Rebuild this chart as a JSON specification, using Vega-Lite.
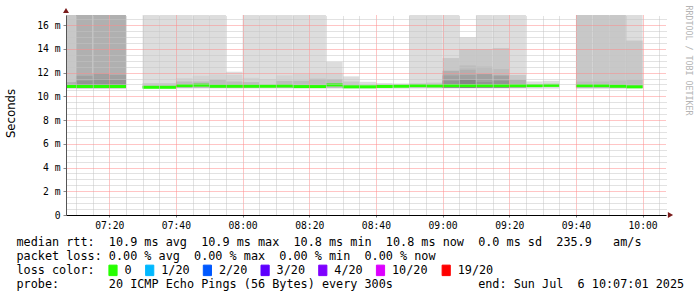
{
  "$schema": "https://vega.github.io/schema/vega-lite/v6.json",
  "width": 600,
  "height": 200,
  "autosize": {"type": "none"},
  "padding": {"left": 66, "top": 15, "right": 31, "bottom": 82},
  "background": "white",
  "config": {"view": {"stroke": null}, "font": "DejaVu Sans Mono"},
  "datasets": {
    "smoke": [
      {"a":"2025-07-06T07:05:00Z","b":"2025-07-06T07:10:00Z","lo":10.65,"hi":16.85,"l":3},
      {"a":"2025-07-06T07:05:00Z","b":"2025-07-06T07:10:00Z","lo":10.7,"hi":11.2,"l":5},
      {"a":"2025-07-06T07:10:00Z","b":"2025-07-06T07:15:00Z","lo":10.65,"hi":16.85,"l":5},
      {"a":"2025-07-06T07:10:00Z","b":"2025-07-06T07:15:00Z","lo":10.7,"hi":11.73,"l":6},
      {"a":"2025-07-06T07:10:00Z","b":"2025-07-06T07:15:00Z","lo":10.7,"hi":11.31,"l":7},
      {"a":"2025-07-06T07:15:00Z","b":"2025-07-06T07:20:00Z","lo":10.65,"hi":16.85,"l":5},
      {"a":"2025-07-06T07:15:00Z","b":"2025-07-06T07:20:00Z","lo":10.7,"hi":11.9,"l":6},
      {"a":"2025-07-06T07:15:00Z","b":"2025-07-06T07:20:00Z","lo":10.7,"hi":11.47,"l":7},
      {"a":"2025-07-06T07:20:00Z","b":"2025-07-06T07:25:00Z","lo":10.65,"hi":16.85,"l":5},
      {"a":"2025-07-06T07:20:00Z","b":"2025-07-06T07:25:00Z","lo":10.7,"hi":11.8,"l":6},
      {"a":"2025-07-06T07:20:00Z","b":"2025-07-06T07:25:00Z","lo":10.7,"hi":11.4,"l":7},
      {"a":"2025-07-06T07:30:00Z","b":"2025-07-06T07:35:00Z","lo":10.65,"hi":16.85,"l":1},
      {"a":"2025-07-06T07:30:00Z","b":"2025-07-06T07:35:00Z","lo":10.7,"hi":11.11,"l":3},
      {"a":"2025-07-06T07:35:00Z","b":"2025-07-06T07:40:00Z","lo":10.65,"hi":16.85,"l":1},
      {"a":"2025-07-06T07:35:00Z","b":"2025-07-06T07:40:00Z","lo":10.7,"hi":11.11,"l":3},
      {"a":"2025-07-06T07:40:00Z","b":"2025-07-06T07:45:00Z","lo":10.65,"hi":16.85,"l":1},
      {"a":"2025-07-06T07:40:00Z","b":"2025-07-06T07:45:00Z","lo":10.7,"hi":11.53,"l":2},
      {"a":"2025-07-06T07:40:00Z","b":"2025-07-06T07:45:00Z","lo":10.7,"hi":11.25,"l":4},
      {"a":"2025-07-06T07:45:00Z","b":"2025-07-06T07:50:00Z","lo":10.65,"hi":16.85,"l":1},
      {"a":"2025-07-06T07:45:00Z","b":"2025-07-06T07:50:00Z","lo":10.7,"hi":11.73,"l":2},
      {"a":"2025-07-06T07:45:00Z","b":"2025-07-06T07:50:00Z","lo":10.7,"hi":11.25,"l":4},
      {"a":"2025-07-06T07:50:00Z","b":"2025-07-06T07:55:00Z","lo":10.65,"hi":16.85,"l":1},
      {"a":"2025-07-06T07:50:00Z","b":"2025-07-06T07:55:00Z","lo":10.7,"hi":11.85,"l":2},
      {"a":"2025-07-06T07:50:00Z","b":"2025-07-06T07:55:00Z","lo":10.7,"hi":11.39,"l":4},
      {"a":"2025-07-06T07:55:00Z","b":"2025-07-06T08:00:00Z","lo":10.65,"hi":12.07,"l":1},
      {"a":"2025-07-06T07:55:00Z","b":"2025-07-06T08:00:00Z","lo":10.7,"hi":11.8,"l":2},
      {"a":"2025-07-06T07:55:00Z","b":"2025-07-06T08:00:00Z","lo":10.7,"hi":11.25,"l":4},
      {"a":"2025-07-06T08:00:00Z","b":"2025-07-06T08:05:00Z","lo":10.65,"hi":16.85,"l":1},
      {"a":"2025-07-06T08:00:00Z","b":"2025-07-06T08:05:00Z","lo":10.7,"hi":11.56,"l":2},
      {"a":"2025-07-06T08:00:00Z","b":"2025-07-06T08:05:00Z","lo":10.7,"hi":11.2,"l":4},
      {"a":"2025-07-06T08:05:00Z","b":"2025-07-06T08:10:00Z","lo":10.65,"hi":16.85,"l":1},
      {"a":"2025-07-06T08:05:00Z","b":"2025-07-06T08:10:00Z","lo":10.7,"hi":11.45,"l":2},
      {"a":"2025-07-06T08:10:00Z","b":"2025-07-06T08:15:00Z","lo":10.65,"hi":16.85,"l":1},
      {"a":"2025-07-06T08:10:00Z","b":"2025-07-06T08:15:00Z","lo":10.7,"hi":11.76,"l":2},
      {"a":"2025-07-06T08:10:00Z","b":"2025-07-06T08:15:00Z","lo":10.7,"hi":11.3,"l":4},
      {"a":"2025-07-06T08:15:00Z","b":"2025-07-06T08:20:00Z","lo":10.65,"hi":16.85,"l":1},
      {"a":"2025-07-06T08:15:00Z","b":"2025-07-06T08:20:00Z","lo":10.7,"hi":11.87,"l":2},
      {"a":"2025-07-06T08:15:00Z","b":"2025-07-06T08:20:00Z","lo":10.7,"hi":11.31,"l":4},
      {"a":"2025-07-06T08:20:00Z","b":"2025-07-06T08:25:00Z","lo":10.65,"hi":16.85,"l":1},
      {"a":"2025-07-06T08:20:00Z","b":"2025-07-06T08:25:00Z","lo":10.7,"hi":11.9,"l":2},
      {"a":"2025-07-06T08:20:00Z","b":"2025-07-06T08:25:00Z","lo":10.7,"hi":11.47,"l":4},
      {"a":"2025-07-06T08:25:00Z","b":"2025-07-06T08:30:00Z","lo":10.65,"hi":12.9,"l":1},
      {"a":"2025-07-06T08:25:00Z","b":"2025-07-06T08:30:00Z","lo":10.7,"hi":11.9,"l":2},
      {"a":"2025-07-06T08:25:00Z","b":"2025-07-06T08:30:00Z","lo":10.7,"hi":11.45,"l":4},
      {"a":"2025-07-06T08:30:00Z","b":"2025-07-06T08:35:00Z","lo":10.65,"hi":11.68,"l":1},
      {"a":"2025-07-06T08:30:00Z","b":"2025-07-06T08:35:00Z","lo":10.7,"hi":11.25,"l":3},
      {"a":"2025-07-06T08:35:00Z","b":"2025-07-06T08:40:00Z","lo":10.65,"hi":11.22,"l":1},
      {"a":"2025-07-06T08:40:00Z","b":"2025-07-06T08:45:00Z","lo":10.65,"hi":11.11,"l":1},
      {"a":"2025-07-06T08:45:00Z","b":"2025-07-06T08:50:00Z","lo":10.65,"hi":11.08,"l":1},
      {"a":"2025-07-06T08:50:00Z","b":"2025-07-06T08:55:00Z","lo":10.65,"hi":16.85,"l":1},
      {"a":"2025-07-06T08:50:00Z","b":"2025-07-06T08:55:00Z","lo":10.7,"hi":11.1,"l":3},
      {"a":"2025-07-06T08:55:00Z","b":"2025-07-06T09:00:00Z","lo":10.65,"hi":16.85,"l":1},
      {"a":"2025-07-06T08:55:00Z","b":"2025-07-06T09:00:00Z","lo":10.7,"hi":11.15,"l":3},
      {"a":"2025-07-06T09:00:00Z","b":"2025-07-06T09:05:00Z","lo":10.65,"hi":16.85,"l":1},
      {"a":"2025-07-06T09:00:00Z","b":"2025-07-06T09:05:00Z","lo":10.7,"hi":13.22,"l":3},
      {"a":"2025-07-06T09:00:00Z","b":"2025-07-06T09:05:00Z","lo":10.7,"hi":12.15,"l":5},
      {"a":"2025-07-06T09:00:00Z","b":"2025-07-06T09:05:00Z","lo":10.7,"hi":11.76,"l":6},
      {"a":"2025-07-06T09:00:00Z","b":"2025-07-06T09:05:00Z","lo":10.7,"hi":11.3,"l":7},
      {"a":"2025-07-06T09:05:00Z","b":"2025-07-06T09:10:00Z","lo":10.65,"hi":14.98,"l":1},
      {"a":"2025-07-06T09:05:00Z","b":"2025-07-06T09:10:00Z","lo":10.7,"hi":13.98,"l":3},
      {"a":"2025-07-06T09:05:00Z","b":"2025-07-06T09:10:00Z","lo":10.7,"hi":12.6,"l":4},
      {"a":"2025-07-06T09:05:00Z","b":"2025-07-06T09:10:00Z","lo":10.7,"hi":12.24,"l":5},
      {"a":"2025-07-06T09:05:00Z","b":"2025-07-06T09:10:00Z","lo":10.7,"hi":11.8,"l":6},
      {"a":"2025-07-06T09:05:00Z","b":"2025-07-06T09:10:00Z","lo":10.7,"hi":11.39,"l":8},
      {"a":"2025-07-06T09:10:00Z","b":"2025-07-06T09:15:00Z","lo":10.65,"hi":16.85,"l":1},
      {"a":"2025-07-06T09:10:00Z","b":"2025-07-06T09:15:00Z","lo":10.7,"hi":13.98,"l":3},
      {"a":"2025-07-06T09:10:00Z","b":"2025-07-06T09:15:00Z","lo":10.7,"hi":12.51,"l":4},
      {"a":"2025-07-06T09:10:00Z","b":"2025-07-06T09:15:00Z","lo":10.7,"hi":11.87,"l":6},
      {"a":"2025-07-06T09:10:00Z","b":"2025-07-06T09:15:00Z","lo":10.7,"hi":11.2,"l":7},
      {"a":"2025-07-06T09:15:00Z","b":"2025-07-06T09:20:00Z","lo":10.65,"hi":16.85,"l":1},
      {"a":"2025-07-06T09:15:00Z","b":"2025-07-06T09:20:00Z","lo":10.7,"hi":14.06,"l":3},
      {"a":"2025-07-06T09:15:00Z","b":"2025-07-06T09:20:00Z","lo":10.7,"hi":12.29,"l":4},
      {"a":"2025-07-06T09:15:00Z","b":"2025-07-06T09:20:00Z","lo":10.7,"hi":11.76,"l":6},
      {"a":"2025-07-06T09:15:00Z","b":"2025-07-06T09:20:00Z","lo":10.7,"hi":11.3,"l":7},
      {"a":"2025-07-06T09:20:00Z","b":"2025-07-06T09:25:00Z","lo":10.65,"hi":16.85,"l":1},
      {"a":"2025-07-06T09:20:00Z","b":"2025-07-06T09:25:00Z","lo":10.7,"hi":11.8,"l":3},
      {"a":"2025-07-06T09:20:00Z","b":"2025-07-06T09:25:00Z","lo":10.7,"hi":11.39,"l":5},
      {"a":"2025-07-06T09:25:00Z","b":"2025-07-06T09:30:00Z","lo":10.65,"hi":11.25,"l":1},
      {"a":"2025-07-06T09:30:00Z","b":"2025-07-06T09:35:00Z","lo":10.65,"hi":11.31,"l":1},
      {"a":"2025-07-06T09:40:00Z","b":"2025-07-06T09:45:00Z","lo":10.65,"hi":16.85,"l":3},
      {"a":"2025-07-06T09:40:00Z","b":"2025-07-06T09:45:00Z","lo":10.7,"hi":11.25,"l":4},
      {"a":"2025-07-06T09:45:00Z","b":"2025-07-06T09:50:00Z","lo":10.65,"hi":16.85,"l":3},
      {"a":"2025-07-06T09:45:00Z","b":"2025-07-06T09:50:00Z","lo":10.7,"hi":11.25,"l":4},
      {"a":"2025-07-06T09:50:00Z","b":"2025-07-06T09:55:00Z","lo":10.65,"hi":16.85,"l":3},
      {"a":"2025-07-06T09:50:00Z","b":"2025-07-06T09:55:00Z","lo":10.7,"hi":11.33,"l":4},
      {"a":"2025-07-06T09:55:00Z","b":"2025-07-06T10:00:00Z","lo":10.65,"hi":16.85,"l":1},
      {"a":"2025-07-06T09:55:00Z","b":"2025-07-06T10:00:00Z","lo":10.7,"hi":14.7,"l":3},
      {"a":"2025-07-06T09:55:00Z","b":"2025-07-06T10:00:00Z","lo":10.7,"hi":11.39,"l":4}
    ],
    "med": [
      {"a":"2025-07-06T07:05:00Z","b":"2025-07-06T07:10:00Z","m":10.83,"loss":"0"},
      {"a":"2025-07-06T07:10:00Z","b":"2025-07-06T07:15:00Z","m":10.83,"loss":"0"},
      {"a":"2025-07-06T07:15:00Z","b":"2025-07-06T07:20:00Z","m":10.83,"loss":"0"},
      {"a":"2025-07-06T07:20:00Z","b":"2025-07-06T07:25:00Z","m":10.83,"loss":"0"},
      {"a":"2025-07-06T07:30:00Z","b":"2025-07-06T07:35:00Z","m":10.76,"loss":"0"},
      {"a":"2025-07-06T07:35:00Z","b":"2025-07-06T07:40:00Z","m":10.76,"loss":"0"},
      {"a":"2025-07-06T07:40:00Z","b":"2025-07-06T07:45:00Z","m":10.9,"loss":"0"},
      {"a":"2025-07-06T07:45:00Z","b":"2025-07-06T07:50:00Z","m":10.94,"loss":"0"},
      {"a":"2025-07-06T07:50:00Z","b":"2025-07-06T07:55:00Z","m":10.85,"loss":"0"},
      {"a":"2025-07-06T07:55:00Z","b":"2025-07-06T08:00:00Z","m":10.85,"loss":"0"},
      {"a":"2025-07-06T08:00:00Z","b":"2025-07-06T08:05:00Z","m":10.85,"loss":"0"},
      {"a":"2025-07-06T08:05:00Z","b":"2025-07-06T08:10:00Z","m":10.85,"loss":"0"},
      {"a":"2025-07-06T08:10:00Z","b":"2025-07-06T08:15:00Z","m":10.87,"loss":"0"},
      {"a":"2025-07-06T08:15:00Z","b":"2025-07-06T08:20:00Z","m":10.82,"loss":"0"},
      {"a":"2025-07-06T08:20:00Z","b":"2025-07-06T08:25:00Z","m":10.82,"loss":"0"},
      {"a":"2025-07-06T08:25:00Z","b":"2025-07-06T08:30:00Z","m":10.96,"loss":"0"},
      {"a":"2025-07-06T08:30:00Z","b":"2025-07-06T08:35:00Z","m":10.8,"loss":"0"},
      {"a":"2025-07-06T08:35:00Z","b":"2025-07-06T08:40:00Z","m":10.8,"loss":"0"},
      {"a":"2025-07-06T08:40:00Z","b":"2025-07-06T08:45:00Z","m":10.83,"loss":"0"},
      {"a":"2025-07-06T08:45:00Z","b":"2025-07-06T08:50:00Z","m":10.85,"loss":"0"},
      {"a":"2025-07-06T08:50:00Z","b":"2025-07-06T08:55:00Z","m":10.9,"loss":"0"},
      {"a":"2025-07-06T08:55:00Z","b":"2025-07-06T09:00:00Z","m":10.88,"loss":"0"},
      {"a":"2025-07-06T09:00:00Z","b":"2025-07-06T09:05:00Z","m":10.9,"loss":"0"},
      {"a":"2025-07-06T09:05:00Z","b":"2025-07-06T09:10:00Z","m":10.9,"loss":"0"},
      {"a":"2025-07-06T09:10:00Z","b":"2025-07-06T09:15:00Z","m":10.9,"loss":"0"},
      {"a":"2025-07-06T09:15:00Z","b":"2025-07-06T09:20:00Z","m":10.9,"loss":"0"},
      {"a":"2025-07-06T09:20:00Z","b":"2025-07-06T09:25:00Z","m":10.9,"loss":"0"},
      {"a":"2025-07-06T09:25:00Z","b":"2025-07-06T09:30:00Z","m":10.9,"loss":"0"},
      {"a":"2025-07-06T09:30:00Z","b":"2025-07-06T09:35:00Z","m":10.92,"loss":"0"},
      {"a":"2025-07-06T09:40:00Z","b":"2025-07-06T09:45:00Z","m":10.9,"loss":"0"},
      {"a":"2025-07-06T09:45:00Z","b":"2025-07-06T09:50:00Z","m":10.9,"loss":"0"},
      {"a":"2025-07-06T09:50:00Z","b":"2025-07-06T09:55:00Z","m":10.85,"loss":"0"},
      {"a":"2025-07-06T09:55:00Z","b":"2025-07-06T10:00:00Z","m":10.8,"loss":"0"}
    ]
  },
  "layer": [
    {
      "data": {"name": "smoke"},
      "mark": {"type": "rect", "clip": true},
      "encoding": {
        "x": {"field": "a", "type": "temporal",
          "scale": {"type": "utc", "nice": false, "domain": [1751785621000, 1751796421000]},
          "axis": {"orient": "bottom",
            "values": [1751786400000, 1751787600000, 1751788800000, 1751790000000, 1751791200000, 1751792400000, 1751793600000, 1751794800000, 1751796000000],
            "labelExpr": "utcFormat(datum.value, '%H:%M')",
            "labelFont": "DejaVu Sans Mono", "labelFontSize": 9.7, "labelColor": "#000",
            "labelPadding": 3, "labelFlush": false, "labelOverlap": false,
            "tickSize": 2, "tickColor": "#777", "domainColor": "#000", "domainWidth": 1,
            "grid": true, "gridColor": "#ff8a8a", "gridDash": [1, 1], "gridWidth": 1, "zindex": 1,
            "title": [
              "median rtt:\u00a0\u00a010.9 ms avg\u00a0\u00a010.9 ms max\u00a0\u00a010.8 ms min\u00a0\u00a010.8 ms now\u00a0\u00a00.0 ms sd\u00a0\u00a0235.9\u00a0\u00a0\u00a0am/s",
              "packet loss: 0.00 % avg\u00a0\u00a00.00 % max\u00a0\u00a00.00 % min\u00a0\u00a00.00 % now",
              "loss color:",
              "probe:\u00a0\u00a0\u00a0\u00a0\u00a0\u00a0\u00a020 ICMP Echo Pings (56 Bytes) every 300s\u00a0\u00a0\u00a0\u00a0\u00a0\u00a0\u00a0\u00a0\u00a0\u00a0\u00a0\u00a0end: Sun Jul\u00a0\u00a06 10:07:01 2025"
            ],
            "titleFont": "DejaVu Sans Mono", "titleFontSize": 11.8, "titleFontWeight": "normal",
            "titleColor": "#000", "titleX": -50, "titleY": 30, "titleAlign": "left",
            "titleBaseline": "alphabetic", "titleLineHeight": 14.3}
        },
        "x2": {"field": "b"},
        "y": {"field": "lo", "type": "quantitative",
          "scale": {"domain": [0, 16.85], "nice": false, "zero": true},
          "axis": {"orient": "left", "values": [0, 2, 4, 6, 8, 10, 12, 14, 16],
            "labelExpr": "datum.value == 0 ? '0' : datum.value + ' m'",
            "labelFont": "DejaVu Sans Mono", "labelFontSize": 9.7, "labelColor": "#000",
            "labelPadding": 3, "tickSize": 3, "tickColor": "#888", "domainColor": "#555",
            "grid": true, "gridColor": "#ff8a8a", "gridDash": [1, 1],
            "zindex": 1,
            "title": "Seconds", "titleFont": "DejaVu Sans", "titleFontSize": 11.7,
            "titleFontWeight": "normal", "titleColor": "#000", "titleX": -56, "titleY": 98,
            "titleAngle": -90, "titleAlign": "center", "titleBaseline": "middle"}
        },
        "y2": {"field": "hi"},
        "fill": {"field": "l", "type": "ordinal",
          "scale": {"domain": [1, 2, 3, 4, 5, 6, 7, 8],
            "range": ["#dddddd", "#d3d3d3", "#c8c8c8", "#bdbdbd", "#b0b0b0", "#a0a0a0", "#939393", "#858585"]},
          "legend": null}
      }
    },
    {
      "data": {"name": "med"},
      "mark": {"type": "rule", "strokeWidth": 3, "strokeCap": "butt", "clip": true},
      "encoding": {
        "x": {"field": "a", "type": "temporal",
          "scale": {"type": "utc", "nice": false, "domain": [1751785621000, 1751796421000]},
          "axis": {"orient": "top",
            "values": [1751785800000, 1751786100000, 1751786700000, 1751787000000, 1751787300000, 1751787900000, 1751788200000, 1751788500000, 1751789100000, 1751789400000, 1751789700000, 1751790300000, 1751790600000, 1751790900000, 1751791500000, 1751791800000, 1751792100000, 1751792700000, 1751793000000, 1751793300000, 1751793900000, 1751794200000, 1751794500000, 1751795100000, 1751795400000, 1751795700000, 1751796300000],
            "labels": false, "ticks": false, "domain": false, "title": null,
            "grid": true, "gridColor": "#c4c4c4", "gridDash": [1, 1],
            "zindex": 1}
        },
        "x2": {"field": "b"},
        "y": {"field": "m", "type": "quantitative",
          "scale": {"domain": [0, 16.85], "nice": false, "zero": true},
          "axis": {"orient": "right",
            "values": [0.5, 1, 1.5, 2.5, 3, 3.5, 4.5, 5, 5.5, 6.5, 7, 7.5, 8.5, 9, 9.5, 10.5, 11, 11.5, 12.5, 13, 13.5, 14.5, 15, 15.5, 16.5],
            "labels": false, "ticks": false, "domain": false,
            "grid": true, "gridColor": "#c4c4c4", "gridDash": [1, 1], "zindex": 1,
            "title": "RRDTOOL / TOBI OETIKER", "titleFont": "DejaVu Sans Mono", "titleFontSize": 8.3,
            "titleFontWeight": "normal", "titleColor": "#b4b4b4", "titleAngle": 90,
            "titleX": 21, "titleY": -10, "titleAlign": "left", "titleBaseline": "middle"}
        },
        "stroke": {"field": "loss", "type": "nominal",
          "scale": {"domain": ["0", "1/20", "2/20", "3/20", "4/20", "10/20", "19/20"],
            "range": ["#26ff00", "#00b8ff", "#0059ff", "#5e00ff", "#7e00ff", "#dd00ff", "#ff0000"]},
          "legend": {"orient": "none", "legendX": 41, "legendY": 249, "direction": "horizontal",
            "title": null,
            "labelFont": "DejaVu Sans Mono", "labelFontSize": 11.8, "labelColor": "#000",
            "labelOffset": 5.5, "columnPadding": 10.7,
            "symbolType": "M-0.78,-1H0.78V1H-0.78Z", "symbolSize": 110,
            "symbolStrokeWidth": 1, "symbolOpacity": 1,
            "encode": {"symbols": {"update": {"fill": {"scale": "stroke", "field": "value"}, "stroke": {"value": "#000"}, "strokeWidth": {"value": 1}, "opacity": {"value": 1}}}}}
        }
      }
    },
    {
      "data": {"values": [{}]},
      "mark": {"type": "point", "shape": "triangle-up", "filled": true, "color": "#7a1c1c", "size": 36, "opacity": 1, "yOffset": -4.5},
      "encoding": {
        "x": {"datum": 1751785621000, "type": "temporal", "axis": null,
          "scale": {"type": "utc", "nice": false, "domain": [1751785621000, 1751796421000]}},
        "y": {"datum": 16.85, "type": "quantitative", "axis": null, "scale": {"domain": [0, 16.85], "nice": false, "zero": true}}
      }
    },
    {
      "data": {"values": [{}]},
      "mark": {"type": "point", "shape": "triangle-right", "filled": true, "color": "#7a1c1c", "size": 36, "opacity": 1, "xOffset": 4.5},
      "encoding": {
        "x": {"datum": 1751796421000, "type": "temporal", "axis": null,
          "scale": {"type": "utc", "nice": false, "domain": [1751785621000, 1751796421000]}},
        "y": {"datum": 0, "type": "quantitative", "axis": null, "scale": {"domain": [0, 16.85], "nice": false, "zero": true}}
      }
    }
  ],
  "resolve": {"axis": {"x": "independent", "y": "independent"}}
}
